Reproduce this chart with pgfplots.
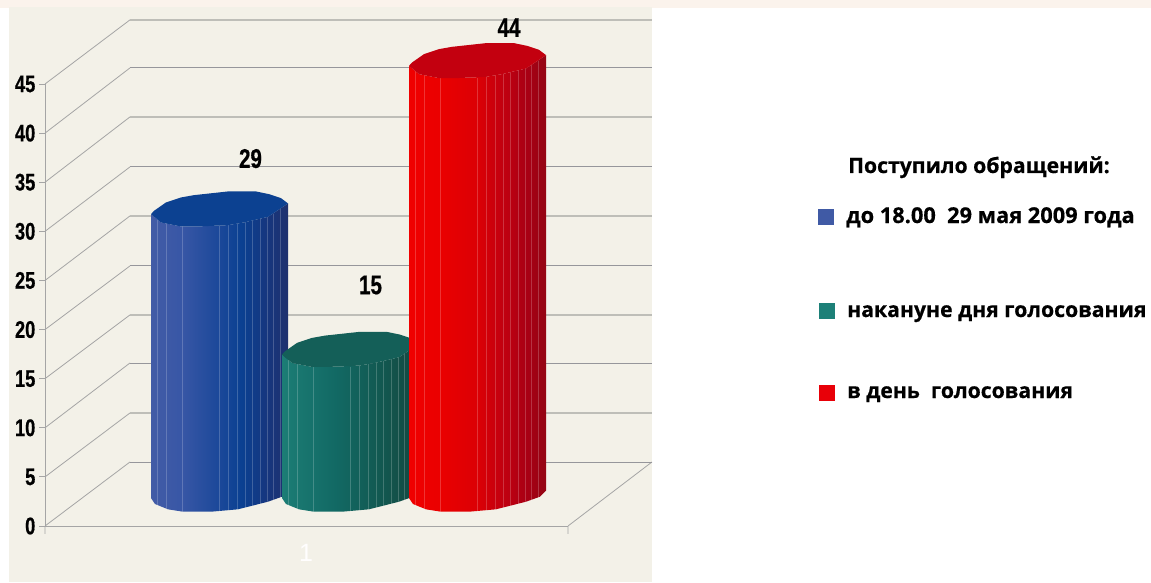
\documentclass[border=0pt]{standalone}
\usepackage{fontspec}
\setmainfont{Liberation Sans}
\newfontfamily\narrow[FakeStretch=0.76,BoldFeatures={FakeBold=0.6}]{Liberation Sans}
\newfontfamily\legfont[BoldFeatures={FakeBold=0.5}]{Open Sans}
\usepackage{pgfplots}
\pgfplotsset{compat=1.18}
\usepackage{pgfplotstable}

\definecolor{panel}{RGB}{243,241,232}
\definecolor{band}{RGB}{251,243,236}
\definecolor{griddark}{RGB}{150,150,155}
\definecolor{gridlight}{RGB}{190,190,184}
\definecolor{axisgray}{RGB}{165,165,165}
\definecolor{bluetop}{RGB}{12,65,145}
\definecolor{greentop}{RGB}{20,95,88}
\definecolor{redtop}{RGB}{195,0,15}
\definecolor{blueleg}{RGB}{64,90,165}
\definecolor{greenleg}{RGB}{29,128,120}
\definecolor{redleg}{RGB}{232,0,8}

% side colours of the cylinders, 25bp = left edge, 75bp = right edge
\pgfdeclarehorizontalshading{blueside}{100bp}{rgb(0bp)=(.26,.36,.65); rgb(25bp)=(.26,.36,.65); rgb(36bp)=(.22,.34,.65); rgb(53bp)=(.08,.27,.59); rgb(58bp)=(.04,.25,.57); rgb(68bp)=(.09,.21,.49); rgb(75bp)=(.12,.19,.43); rgb(100bp)=(.12,.19,.43)}
\pgfdeclarehorizontalshading{greenside}{100bp}{rgb(0bp)=(.11,.49,.46); rgb(25bp)=(.11,.49,.46); rgb(45bp)=(.07,.41,.39); rgb(60bp)=(.07,.35,.32); rgb(75bp)=(.08,.28,.25); rgb(100bp)=(.08,.28,.25)}
\pgfdeclarehorizontalshading{redside}{100bp}{rgb(0bp)=(.94,0,0); rgb(25bp)=(.94,0,0); rgb(36bp)=(.92,0,0); rgb(50bp)=(.86,0,.02); rgb(59bp)=(.76,0,.06); rgb(68bp)=(.66,0,.08); rgb(75bp)=(.58,.02,.08); rgb(100bp)=(.58,.02,.08)}

% outline of the side: k=1 follows the value, k=0 stays on the floor
\pgfplotstableread{
dx k d
0 1 0
10 1 -8.3
30 1 -12.3
47 1 -12.3
77 1 -11
93 1 -8.3
117 1 -2.7
127 1 4
137 1 10.7
137 0 7.3
131 0 1.3
117 0 -3.7
87 0 -11.3
60 0 -13.7
32 0 -13.7
17 0 -11.3
4 0 -6
0 0 0
}\sideshape

\pgfplotstableread{
dx d
0 0
3 3.3
15 11.7
30 16.7
43 19
77 22.7
105 22.7
118 20
130 16
137 10.7
127 4
117 -2.7
93 -8.3
77 -11
47 -12.3
30 -12.3
10 -8.3
}\topshape

\pgfplotstableread{
dx k d
6 1 -5
6 0 -8
6 0 nan
15 1 -9
15 0 -10.5
15 0 nan
31 1 -12.3
31 0 -13.7
31 0 nan
68 1 -12
68 0 -13
68 0 nan
77 1 -11
77 0 -12
77 0 nan
86 1 -9.5
86 0 -11.5
86 0 nan
94 1 -8
94 0 -9.5
94 0 nan
101 1 -6.5
101 0 -8
101 0 nan
109 1 -4.5
109 0 -6
109 0 nan
116 1 -3
116 0 -4
116 0 nan
122 1 0.5
122 0 -2.5
122 0 nan
129 1 5
129 0 0.5
}\facets

% #1 left edge, #2 value, #3 small height correction, #4 shading, #5 top colour
\newcommand{\cyl}[5]{%
  \addplot[draw=none, shade, shading=#4] table[x expr=#1+\thisrow{dx}, y expr=\thisrow{k}*(#2+#3)+2.85+\thisrow{d}/9.82] {\sideshape};
  \addplot[draw=white, opacity=0.2, line width=0.6pt, unbounded coords=jump] table[x expr=#1+\thisrow{dx}, y expr=\thisrow{k}*(#2+#3)+2.85+\thisrow{d}/9.82] {\facets};
  \addplot[draw=none, fill=#5] table[x expr=#1+\thisrow{dx}, y expr=#2+#3+2.85+\thisrow{d}/9.82] {\topshape};
}

\begin{document}
\begin{tikzpicture}
\path[use as bounding box] (0,0) rectangle (1151pt,582pt);
\fill[band] (0,574pt) rectangle (1151pt,582pt);
\fill[panel] (9pt,0) rectangle (652pt,574.5pt);
\begin{axis}[
  at={(45pt,56pt)}, anchor=south west,
  scale only axis, width=523pt, height=442pt,
  xmin=45, xmax=568, ymin=0, ymax=45,
  clip=false,
  axis x line*=bottom, axis y line*=left,
  axis line style={-, draw=axisgray, line width=0.9pt},
  xtick={306}, xticklabels={1},
  ytick={0,5,...,45},
  tick align=outside, major tick length=6pt,
  ytick style={draw=axisgray, line width=0.8pt},
  xtick style={draw=none},
  /pgf/number format/assume math mode=true,
  yticklabel style={font=\narrow\bfseries\fontsize{24}{26}\selectfont, black, inner sep=1pt, xshift=-2.5pt},
  xticklabel style={font=\fontsize{25}{27}\selectfont, color=white!97!panel, yshift=-9pt},
]
% floor and left wall
\addplot[draw=axisgray, line width=0.8pt, unbounded coords=jump] coordinates {
  (45,45) (130,51.53) (130,nan)
  (45,40) (130,46.64) (130,nan)
  (45,35) (130,41.65) (130,nan)
  (45,30) (130,36.56) (130,nan)
  (45,25) (130,31.57) (130,nan)
  (45,20) (130,26.48) (130,nan)
  (45,15) (130,21.49) (130,nan)
  (45,10) (130,16.60) (130,nan)
  (45,5) (130,11.51) (130,nan)
  (45,0) (130,6.52) (130,nan)
  (568,0) (652,6.52) (652,nan)
  (45,0) (45,-0.8) (45,nan)
  (568,0) (568,-0.8)
};
% back wall
\addplot[draw=griddark, line width=0.9pt, unbounded coords=jump] coordinates {
  (130,46.64) (652,46.64) (652,nan)
  (130,36.56) (652,36.56) (652,nan)
  (130,26.48) (652,26.48) (652,nan)
  (130,16.60) (652,16.60) (652,nan)
  (130,6.52) (652,6.52)
};
\addplot[draw=gridlight, line width=1.4pt, unbounded coords=jump] coordinates {
  (130,51.53) (652,51.53) (652,nan)
  (130,41.65) (652,41.65) (652,nan)
  (130,31.57) (652,31.57) (652,nan)
  (130,21.49) (652,21.49) (652,nan)
  (130,11.51) (652,11.51)
};

\cyl{151}{29}{-0.1}{blueside}{bluetop}
\cyl{282}{15}{-0.4}{greenside}{greentop}
\cyl{409}{44}{0}{redside}{redtop}

% value labels
\addplot[draw=none, mark=none, point meta=explicit, nodes near coords,
  every node near coord/.style={anchor=base, inner sep=0pt, text=black,
    font=\narrow\bfseries\fontsize{27}{29}\selectfont}]
  coordinates {(250.5,36.46)[29] (370.5,23.6)[15] (509,49.8)[44]};
\end{axis}

% legend
\fill[blueleg] (818pt,357pt) rectangle (834pt,373pt);
\fill[greenleg] (819pt,263pt) rectangle (835pt,279pt);
\fill[redleg] (819pt,181pt) rectangle (835pt,197pt);
\begin{scope}[every node/.style={anchor=base west, inner sep=0pt, text=black,
    font=\legfont\bfseries\fontsize{21.2}{24}\selectfont}]
\node at (848pt,409pt) {Поступило обращений:};
\node[font=\legfont\bfseries\fontsize{21.8}{24}\selectfont] at (846pt,359pt) {до 18.00\ \ 29 мая 2009 года};
\node at (847pt,265pt) {накануне дня голосования};
\node at (847pt,184pt) {в день\ \ голосования};
\end{scope}
\end{tikzpicture}
\end{document}
